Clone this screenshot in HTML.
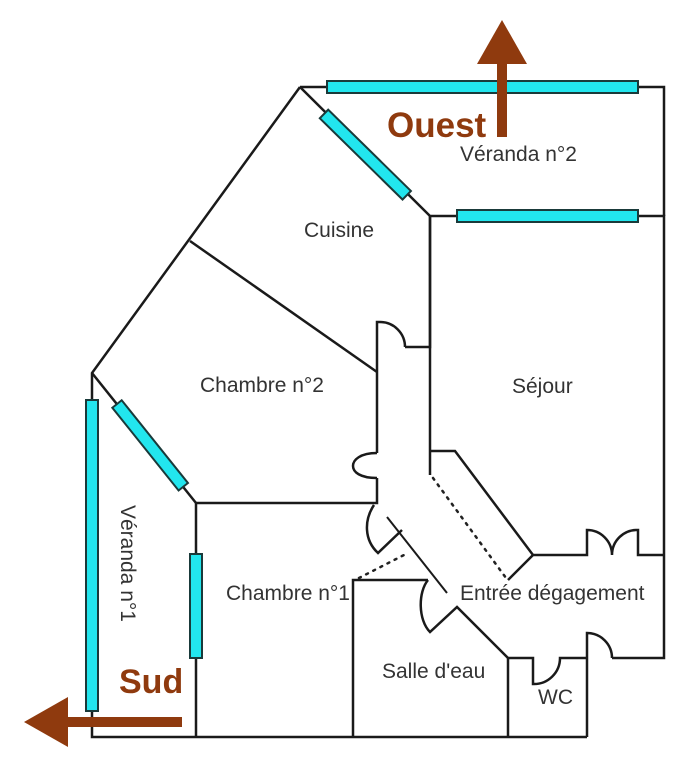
<!DOCTYPE html>
<html><head><meta charset="utf-8"><style>
body{margin:0;background:#fff}
svg{display:block}
text{font-family:"Liberation Sans",sans-serif}
</style></head><body>
<svg width="689" height="768" viewBox="0 0 689 768" xmlns="http://www.w3.org/2000/svg">
<g fill="none" stroke="#1a1a1a" stroke-width="2.5" stroke-linejoin="miter">
<path d="M300,87 H664 V216"/>
<path d="M300,87 L92,373 V737 H587"/>
<path d="M300,87 L430,216 H664 V555"/>
<path d="M664,555 V658 H612"/>
<path d="M612,658 A25,25 0 0 0 587,633 V737"/>
<path d="M190,241 L377,372"/>
<path d="M430,216 V347 H405"/>
<path d="M405,347 A25,25 0 0 0 380,322 H377 V453"/>
<path d="M377,453 C360,453 353,460 353,466 C353,472 360,478 377,478"/>
<path d="M377,478 V503 H196 V737"/>
<path d="M92,373 L196,503"/>
<path d="M374,505 C364,520 364,540 378,553 L402,530"/>
<path d="M387,517 L447,593" stroke-width="2"/>
<path d="M353,737 V580 H428"/>
<path d="M428,580 C418,592 418,620 430,632 L457,607 L508,658"/>
<path d="M430,216 V475"/>
<path d="M430,451 H455 L533,555 L508,580"/>
<path d="M533,555 H587 V530 A25,25 0 0 1 612,555 A25,25 0 0 1 638,530 V555 H664"/>
<path d="M508,737 V658 H533 V684 A26,26 0 0 0 560,658 H587"/>
</g>
<g fill="none" stroke="#222" stroke-width="2.5" stroke-dasharray="2,6" stroke-linecap="round">
<path d="M433,478 L506,578"/>
<path d="M359,578 L404,555"/>
</g>
<g fill="#22e6ee" stroke="#1a3a3a" stroke-width="2">
<rect x="327" y="81" width="311" height="12"/>
<rect x="457" y="210" width="181" height="12"/>
<rect x="86" y="400" width="12" height="311"/>
<rect x="190" y="554" width="12" height="104"/>
<rect x="0" y="-6" width="116" height="12" transform="translate(324,114) rotate(44.5)"/>
<rect x="0" y="-6" width="106" height="12" transform="translate(117,404) rotate(51.3)"/>
</g>
<g fill="#8f3a0e" stroke="none">
<rect x="497" y="60" width="10" height="77"/>
<polygon points="502,20 477,64 527,64"/>
<rect x="66" y="717" width="116" height="10"/>
<polygon points="24,722 68,697 68,747"/>
</g>
<text x="387" y="137" font-size="35" font-weight="bold" fill="#8f3a0e">Ouest</text>
<text x="119" y="693" font-size="34" font-weight="bold" fill="#8f3a0e">Sud</text>
<g font-size="21" fill="#333">
<text x="460" y="161">Véranda n°2</text>
<text x="304" y="237">Cuisine</text>
<text x="200" y="392">Chambre n°2</text>
<text x="512" y="393">Séjour</text>
<text x="226" y="600">Chambre n°1</text>
<text x="460" y="600">Entrée dégagement</text>
<text x="382" y="678">Salle d'eau</text>
<text x="538" y="704">WC</text>
<text transform="translate(121,505) rotate(90)">Véranda n°1</text>
</g>
</svg>
</body></html>
